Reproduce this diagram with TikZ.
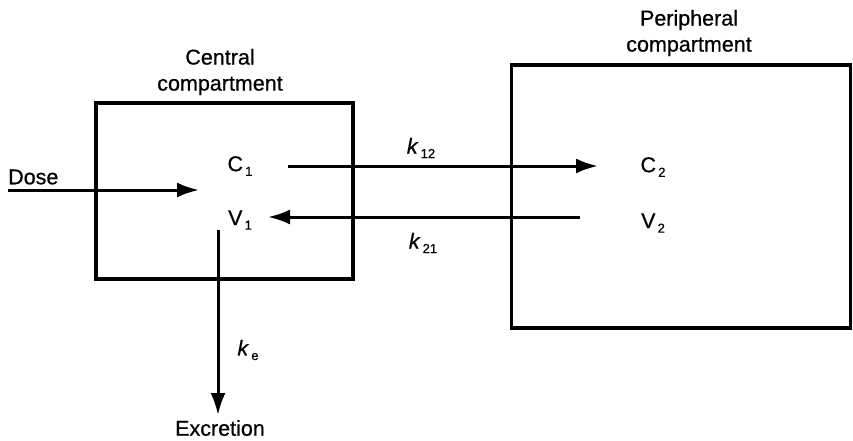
\documentclass[tikz,border=0pt]{standalone}
\usepackage{fontspec}
\setmainfont{Liberation Sans}[FakeBold=0.6]
\usepackage{tikz}
\usetikzlibrary{arrows.meta,positioning}

\newcommand{\lowidx}[1]{\raisebox{-0.4ex}{\fontsize{13}{13}\selectfont\,#1}}
\newcommand{\rate}[1]{\textit{k}\lowidx{#1}}

\begin{document}
\begin{tikzpicture}[
  x=1pt, y=-1pt,
  every node/.style={font=\fontsize{21.5}{26}\selectfont, inner sep=0pt},
  compbox/.style={draw, line width=3.2pt, minimum width=#1},
  lbl/.style={align=center},
  arr/.style={-{Latex[length=22pt,width=15pt]}, line width=3pt}
]
  \useasboundingbox (0,0) rectangle (853,441);

  % compartments
  \node[compbox=257pt, minimum height=176pt] (central) at (224.5,191) {};
  \node[compbox=339pt, minimum height=263pt] (periph) at (681,196.5) {};
  \node[lbl] (centlbl) at (220,72) {Central\\compartment};
  \node[lbl] (perilbl) at (689,33) {Peripheral\\compartment};

  % concentrations and volumes
  \node (c1) at (240,166) {C\lowidx{1}};
  \node (v1) at (240,220) {V\lowidx{1}};
  \node (c2) at (653,167) {C\lowidx{2}};
  \node (v2) at (653,223) {V\lowidx{2}};

  % rate constants
  \node (k12) at (421,148) {\rate{12}};
  \node (k21) at (423,243) {\rate{21}};
  \node (ke) at (248,350) {\rate{e}};
  \node[anchor=west] (dose) at (8,177) {Dose};
  \node (excr) at (220,428) {Excretion};

  \coordinate (dosein) at (8,190);
  \coordinate (doseend) at (199,190);
  \coordinate (k12a) at (288,166);
  \coordinate (k12b) at (598,166);
  \coordinate (k21a) at (580,217);
  \coordinate (k21b) at (268,217);
  \coordinate (exa) at (218,230);
  \coordinate (exb) at (218,415);

  \draw[arr] (dosein) -- (doseend);
  \draw[arr] (k12a) -- (k12b);
  \draw[arr] (k21a) -- (k21b);
  \draw[arr] (exa) -- (exb);
\end{tikzpicture}
\end{document}
